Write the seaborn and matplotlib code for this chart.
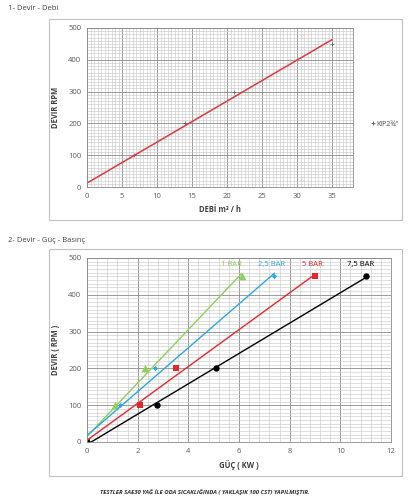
import matplotlib
matplotlib.use("Agg")
import matplotlib.pyplot as plt
import seaborn as sns
from matplotlib.ticker import MultipleLocator
from matplotlib.patches import Rectangle
from matplotlib.lines import Line2D

# ---- data ----
debi = [0, 6.7, 14, 21, 35]
devir_debi = [0, 100, 200, 300, 450]

devir_guc = [0, 100, 200, 450]
guc_1bar = [0, 1.1, 2.3, 6.1]
guc_25bar = [0, 1.3, 2.7, 7.4]
guc_5bar = [0, 2.1, 3.5, 9.0]
guc_75bar = [0, 2.75, 5.1, 11.0]
bar_labels = ["1 BAR", "2,5 BAR", "5 BAR", "7,5 BAR"]
label_x = [5.7, 7.3, 8.9, 10.8]
label_y = [474, 474, 474, 474]

sns.set_style("white")
plt.rcParams['font.family'] = ['Open Sans', 'DejaVu Sans']

W, H = 419, 500
fig = plt.figure(figsize=(W / 100, H / 100), dpi=100)

def fx(px):
    return px / W

def fy(py):
    return 1 - py / H

frame_col = '#c0c0c0'
fig.add_artist(Rectangle((fx(49), fy(220)), fx(353), 201 / H, transform=fig.transFigure,
                         fill=False, ec=frame_col, lw=0.8))
fig.add_artist(Rectangle((fx(49), fy(476)), fx(353), 227 / H, transform=fig.transFigure,
                         fill=False, ec=frame_col, lw=0.8))

ax1 = fig.add_axes([fx(87), fy(187), 266 / W, 159 / H])
ax2 = fig.add_axes([fx(87), fy(442), 304 / W, 184 / H])

def style_axes(ax, xmaj, xmin, ymaj, ymin):
    ax.xaxis.set_major_locator(MultipleLocator(xmaj))
    ax.xaxis.set_minor_locator(MultipleLocator(xmin))
    ax.yaxis.set_major_locator(MultipleLocator(ymaj))
    ax.yaxis.set_minor_locator(MultipleLocator(ymin))
    ax.grid(which='major', color='#8a8a8a', lw=0.6)
    ax.grid(which='minor', color='#c4c4c4', lw=0.4)
    ax.set_axisbelow(True)
    for s in ax.spines.values():
        s.set_color('#8a8a8a')
        s.set_linewidth(0.6)
    ax.tick_params(which='major', length=2, width=0.5, color='#8a8a8a',
                   labelsize=5.5, labelcolor='#595959', pad=2)
    ax.tick_params(which='minor', length=0)

# ---- chart 1 ----
sns.regplot(x=debi, y=devir_debi, ax=ax1, ci=None, truncate=True, marker='+',
            scatter_kws=dict(s=7, color='#555555', linewidths=0.6),
            line_kws=dict(color='#d93a3f', lw=1.1))
ax1.set_xlim(0, 38)
ax1.set_ylim(0, 500)
style_axes(ax1, 5, 0.5, 100, 10)
ax1.set_xlabel("DEBİ m³ / h", fontsize=5.5, fontweight='bold', color='#404040', labelpad=4)
ax1.set_ylabel("DEVİR RPM", fontsize=5.5, fontweight='bold', color='#404040', labelpad=6)
ax1.legend(handles=[Line2D([], [], marker='+', ls='', color='#555555', ms=3, mew=0.6)],
           labels=['KIP2¾"'], loc='center left',
           bbox_to_anchor=(fx(364), fy(124)), bbox_transform=fig.transFigure,
           frameon=False, fontsize=5, handletextpad=0.1, handlelength=0.8,
           labelcolor='#404040')

# ---- chart 2 ----
series = [
    (guc_1bar, '#8fce5a', '^', 30),
    (guc_25bar, '#2aa7df', 'D', 7),
    (guc_5bar, '#e2262b', 's', 13),
    (guc_75bar, '#000000', 'o', 21),
]
for (g, col, mk, sz), lab, lx, ly in zip(series, bar_labels, label_x, label_y):
    sns.regplot(x=g, y=devir_guc, ax=ax2, ci=None, truncate=True, color=col,
                marker=mk, scatter_kws=dict(s=sz, linewidths=0, alpha=1),
                line_kws=dict(lw=1.0))
    ax2.text(lx, ly, lab, color=col, fontsize=5.5, ha='center', va='bottom')
ax2.set_xlim(0, 12)
ax2.set_ylim(0, 500)
style_axes(ax2, 2, 0.4, 100, 10)
ax2.set_xlabel("GÜÇ ( KW )", fontsize=5.5, fontweight='bold', color='#404040', labelpad=4)
ax2.set_ylabel("DEVİR ( RPM )", fontsize=5.5, fontweight='bold', color='#404040', labelpad=6)

# ---- texts ----
fig.text(fx(8), fy(9), "1- Devir - Debi", fontsize=5.5, color='#404040', va='center')
fig.text(fx(8), fy(240), "2- Devir - Güç - Basınç", fontsize=5.5, color='#404040', va='center')
fig.text(0.49, fy(492), "TESTLER SAE30 YAĞ İLE ODA SICAKLIĞINDA ( YAKLAŞIK 100 CST) YAPILMIŞTIR.",
         fontsize=4.3, fontweight='bold', fontstyle='italic', color='#333333',
         ha='center', va='center')

fig.savefig("out.png", dpi=100)
